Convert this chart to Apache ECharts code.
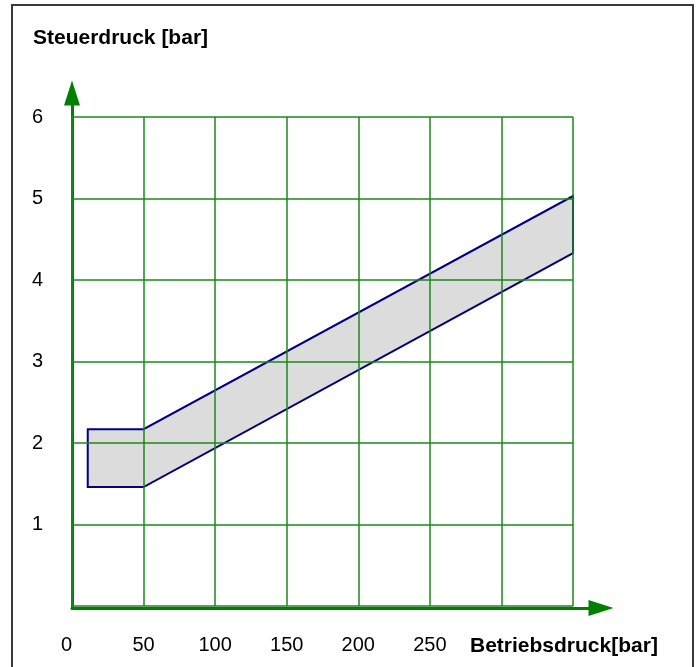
<!DOCTYPE html>
<html>
<head>
<meta charset="utf-8">
<script src="https://cdn.jsdelivr.net/npm/echarts@6/dist/echarts.min.js"></script>
<style>
  html, body { margin: 0; padding: 0; background: #fff; }
  #chart { width: 696px; height: 667px; }
</style>
</head>
<body>
<div id="chart"></div>
<script>
// Operating pressure (bar) at the corners of the control-pressure band
const betriebsdruck = [11, 50, 350];
// Upper and lower limit of the control pressure (bar)
const steuerdruckMax = [2.17, 2.17, 5.03];
const steuerdruckMin = [1.46, 1.46, 4.33];
// Axis tick values
const xTicks = [0, 50, 100, 150, 200, 250, 300, 350];
const yTicks = [0, 1, 2, 3, 4, 5, 6];
const xLabelled = [0, 50, 100, 150, 200, 250];

const GREEN = '#008000';
const GRID_GREEN = '#1a8a1a';
const FONT = '"Liberation Sans", Arial, sans-serif';

// Band outline: upper edge left-to-right, lower edge right-to-left
const bandPoints = betriebsdruck.map((x, i) => [x, steuerdruckMax[i]])
  .concat(betriebsdruck.map((x, i) => [x, steuerdruckMin[i]]).reverse());

const chart = echarts.init(document.getElementById('chart'), null, { renderer: 'canvas' });

chart.setOption({
  backgroundColor: '#fff',
  animation: false,
  textStyle: { fontFamily: FONT },
  title: [
    {
      text: 'Steuerdruck [bar]', left: 33, top: 28, padding: 0,
      textStyle: { fontFamily: FONT, fontSize: 21, fontWeight: 'bold', color: '#000' }
    },
    {
      text: 'Betriebsdruck[bar]', left: 470, top: 636, padding: 0,
      textStyle: { fontFamily: FONT, fontSize: 21, fontWeight: 'bold', color: '#000' }
    }
  ],
  graphic: [
    {
      type: 'rect', silent: true, z: 100,
      shape: { x: 12, y: 5, width: 681, height: 700 },
      style: { fill: 'none', stroke: '#3a3a3a', lineWidth: 2 }
    }
  ],
  grid: [
    // data area with the grid lines
    { left: 72, right: 123, top: 117, bottom: 61 },
    // axis lines with arrow heads, reaching past the data area
    { left: 72, right: 95, top: 93, bottom: 59 }
  ],
  xAxis: [
    {
      gridIndex: 0, type: 'value', min: xTicks[0], max: xTicks[xTicks.length - 1],
      interval: xTicks[1] - xTicks[0], z: 3,
      axisLine: { show: false }, axisTick: { show: false },
      splitLine: { show: true, lineStyle: { color: GRID_GREEN, width: 1.5 } },
      axisLabel: {
        margin: 29, fontSize: 20, color: '#000', fontFamily: FONT,
        formatter: v => (xLabelled.indexOf(v) < 0 ? '' : (v === 0 ? '{z|0}' : String(v))),
        rich: { z: { fontSize: 20, color: '#000', fontFamily: FONT, padding: [0, 11, 0, 0] } }
      }
    },
    {
      gridIndex: 1, type: 'value', min: 0, max: 1,
      axisLine: {
        show: true, symbol: ['none', 'triangle'], symbolSize: [16, 25],
        lineStyle: { color: GREEN, width: 3 }
      },
      axisTick: { show: false }, axisLabel: { show: false }, splitLine: { show: false }
    }
  ],
  yAxis: [
    {
      gridIndex: 0, type: 'value', min: yTicks[0], max: yTicks[yTicks.length - 1],
      interval: yTicks[1] - yTicks[0], z: 3,
      axisLine: { show: false }, axisTick: { show: false },
      splitLine: { show: true, lineStyle: { color: GRID_GREEN, width: 1.5 } },
      axisLabel: {
        margin: 29, fontSize: 20, color: '#000', fontFamily: FONT,
        formatter: v => (v === 0 ? '' : String(v))
      }
    },
    {
      gridIndex: 1, type: 'value', min: 0, max: 1,
      axisLine: {
        show: true, symbol: ['none', 'triangle'], symbolSize: [16, 25],
        lineStyle: { color: GREEN, width: 3 }
      },
      axisTick: { show: false }, axisLabel: { show: false }, splitLine: { show: false }
    }
  ],
  series: [
    {
      type: 'custom',
      xAxisIndex: 0, yAxisIndex: 0,
      z: 2,
      data: bandPoints,
      renderItem: function (params, api) {
        if (params.dataIndex !== 0) return null;
        const pts = bandPoints.map(p => api.coord(p));
        return {
          type: 'polygon',
          shape: { points: pts },
          style: { fill: '#dcdcdc', stroke: '#000080', lineWidth: 2, lineJoin: 'miter' }
        };
      }
    }
  ]
});
</script>
</body>
</html>
